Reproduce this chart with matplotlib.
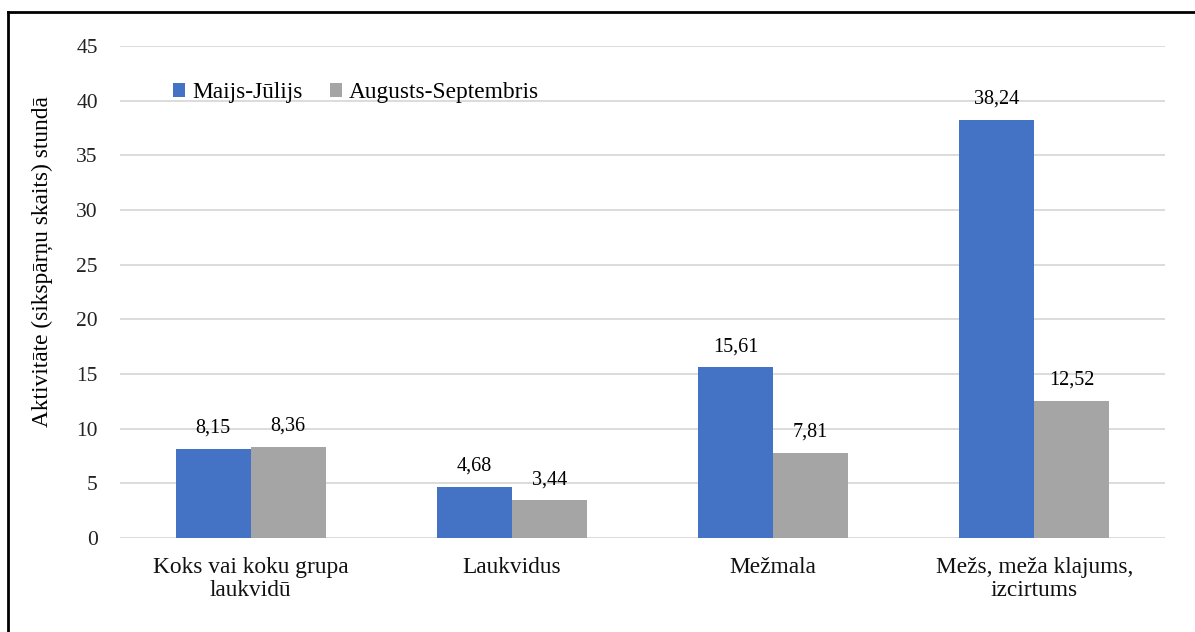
import matplotlib

matplotlib.use("Agg")

import matplotlib.pyplot as plt
import numpy as np
from matplotlib.lines import Line2D

# Data
categories = ["Koks vai koku grupa\nlaukvidū", "Laukvidus", "Mežmala",
              "Mežs, meža klajums,\nizcirtums"]
maijs_julijs = [8.15, 4.68, 15.61, 38.24]
augusts_sept = [8.36, 3.44, 7.81, 12.52]
series_names = ["Maijs-Jūlijs", "Augusts-Septembris"]
y_ticks = [0, 5, 10, 15, 20, 25, 30, 35, 40, 45]

BLUE = "#4472C4"
GRAY = "#A5A5A5"

plt.rcParams["font.family"] = ["Liberation Serif", "DejaVu Serif"]

fig = plt.figure(figsize=(11.95, 6.32), dpi=100)
ax = fig.add_axes([120 / 1195, 1 - 538 / 632, 1045 / 1195, 492 / 632])

x = np.arange(len(categories))
width = 0.287
b1 = ax.bar(x - width / 2, maijs_julijs, width, color=BLUE, label=series_names[0], zorder=3)
b2 = ax.bar(x + width / 2, augusts_sept, width, color=GRAY, label=series_names[1], zorder=3)

for bars, vals in ((b1, maijs_julijs), (b2, augusts_sept)):
    for rect, v in zip(bars, vals):
        ax.annotate("{:.2f}".format(v).replace(".", ","),
                    (rect.get_x() + rect.get_width() / 2, v),
                    xytext=(0, 8), textcoords="offset points",
                    ha="center", va="bottom", fontsize=14.5, color="#000000")

ax.set_xlim(-0.5, len(categories) - 0.5)
ax.set_ylim(0, 45)
ax.set_yticks(y_ticks)
ax.set_yticklabels([str(t) for t in y_ticks], fontsize=15.5, color="#222222")
ax.set_xticks(x)
ax.set_xticklabels(categories, fontsize=16.8, color="#111111", linespacing=1.12)
ax.tick_params(axis="both", length=0)
ax.tick_params(axis="y", pad=16)
ax.tick_params(axis="x", pad=14)
ax.grid(axis="y", color="#D9D9D9", linewidth=1.3, zorder=0)
for s in ax.spines.values():
    s.set_visible(False)

ax.set_ylabel("Aktivitāte (sikspārņu skaits) stundā", fontsize=16.8)
ax.yaxis.set_label_coords(-0.064, 0.561)

leg = ax.legend(loc="upper left", bbox_to_anchor=(0.042, 0.945), ncol=2, frameon=False,
                fontsize=16.8, handlelength=0.5, handleheight=0.5, handletextpad=0.3,
                columnspacing=1.2, borderaxespad=0)

# outer frame (only top and left edges visible in the picture)
fig.add_artist(Line2D([8 / 1195, 8 / 1195], [0, 1 - 12 / 632], color="black", linewidth=2))
fig.add_artist(Line2D([8 / 1195, 1], [1 - 12 / 632, 1 - 12 / 632], color="black", linewidth=2))

fig.savefig("out.png", dpi=100)
